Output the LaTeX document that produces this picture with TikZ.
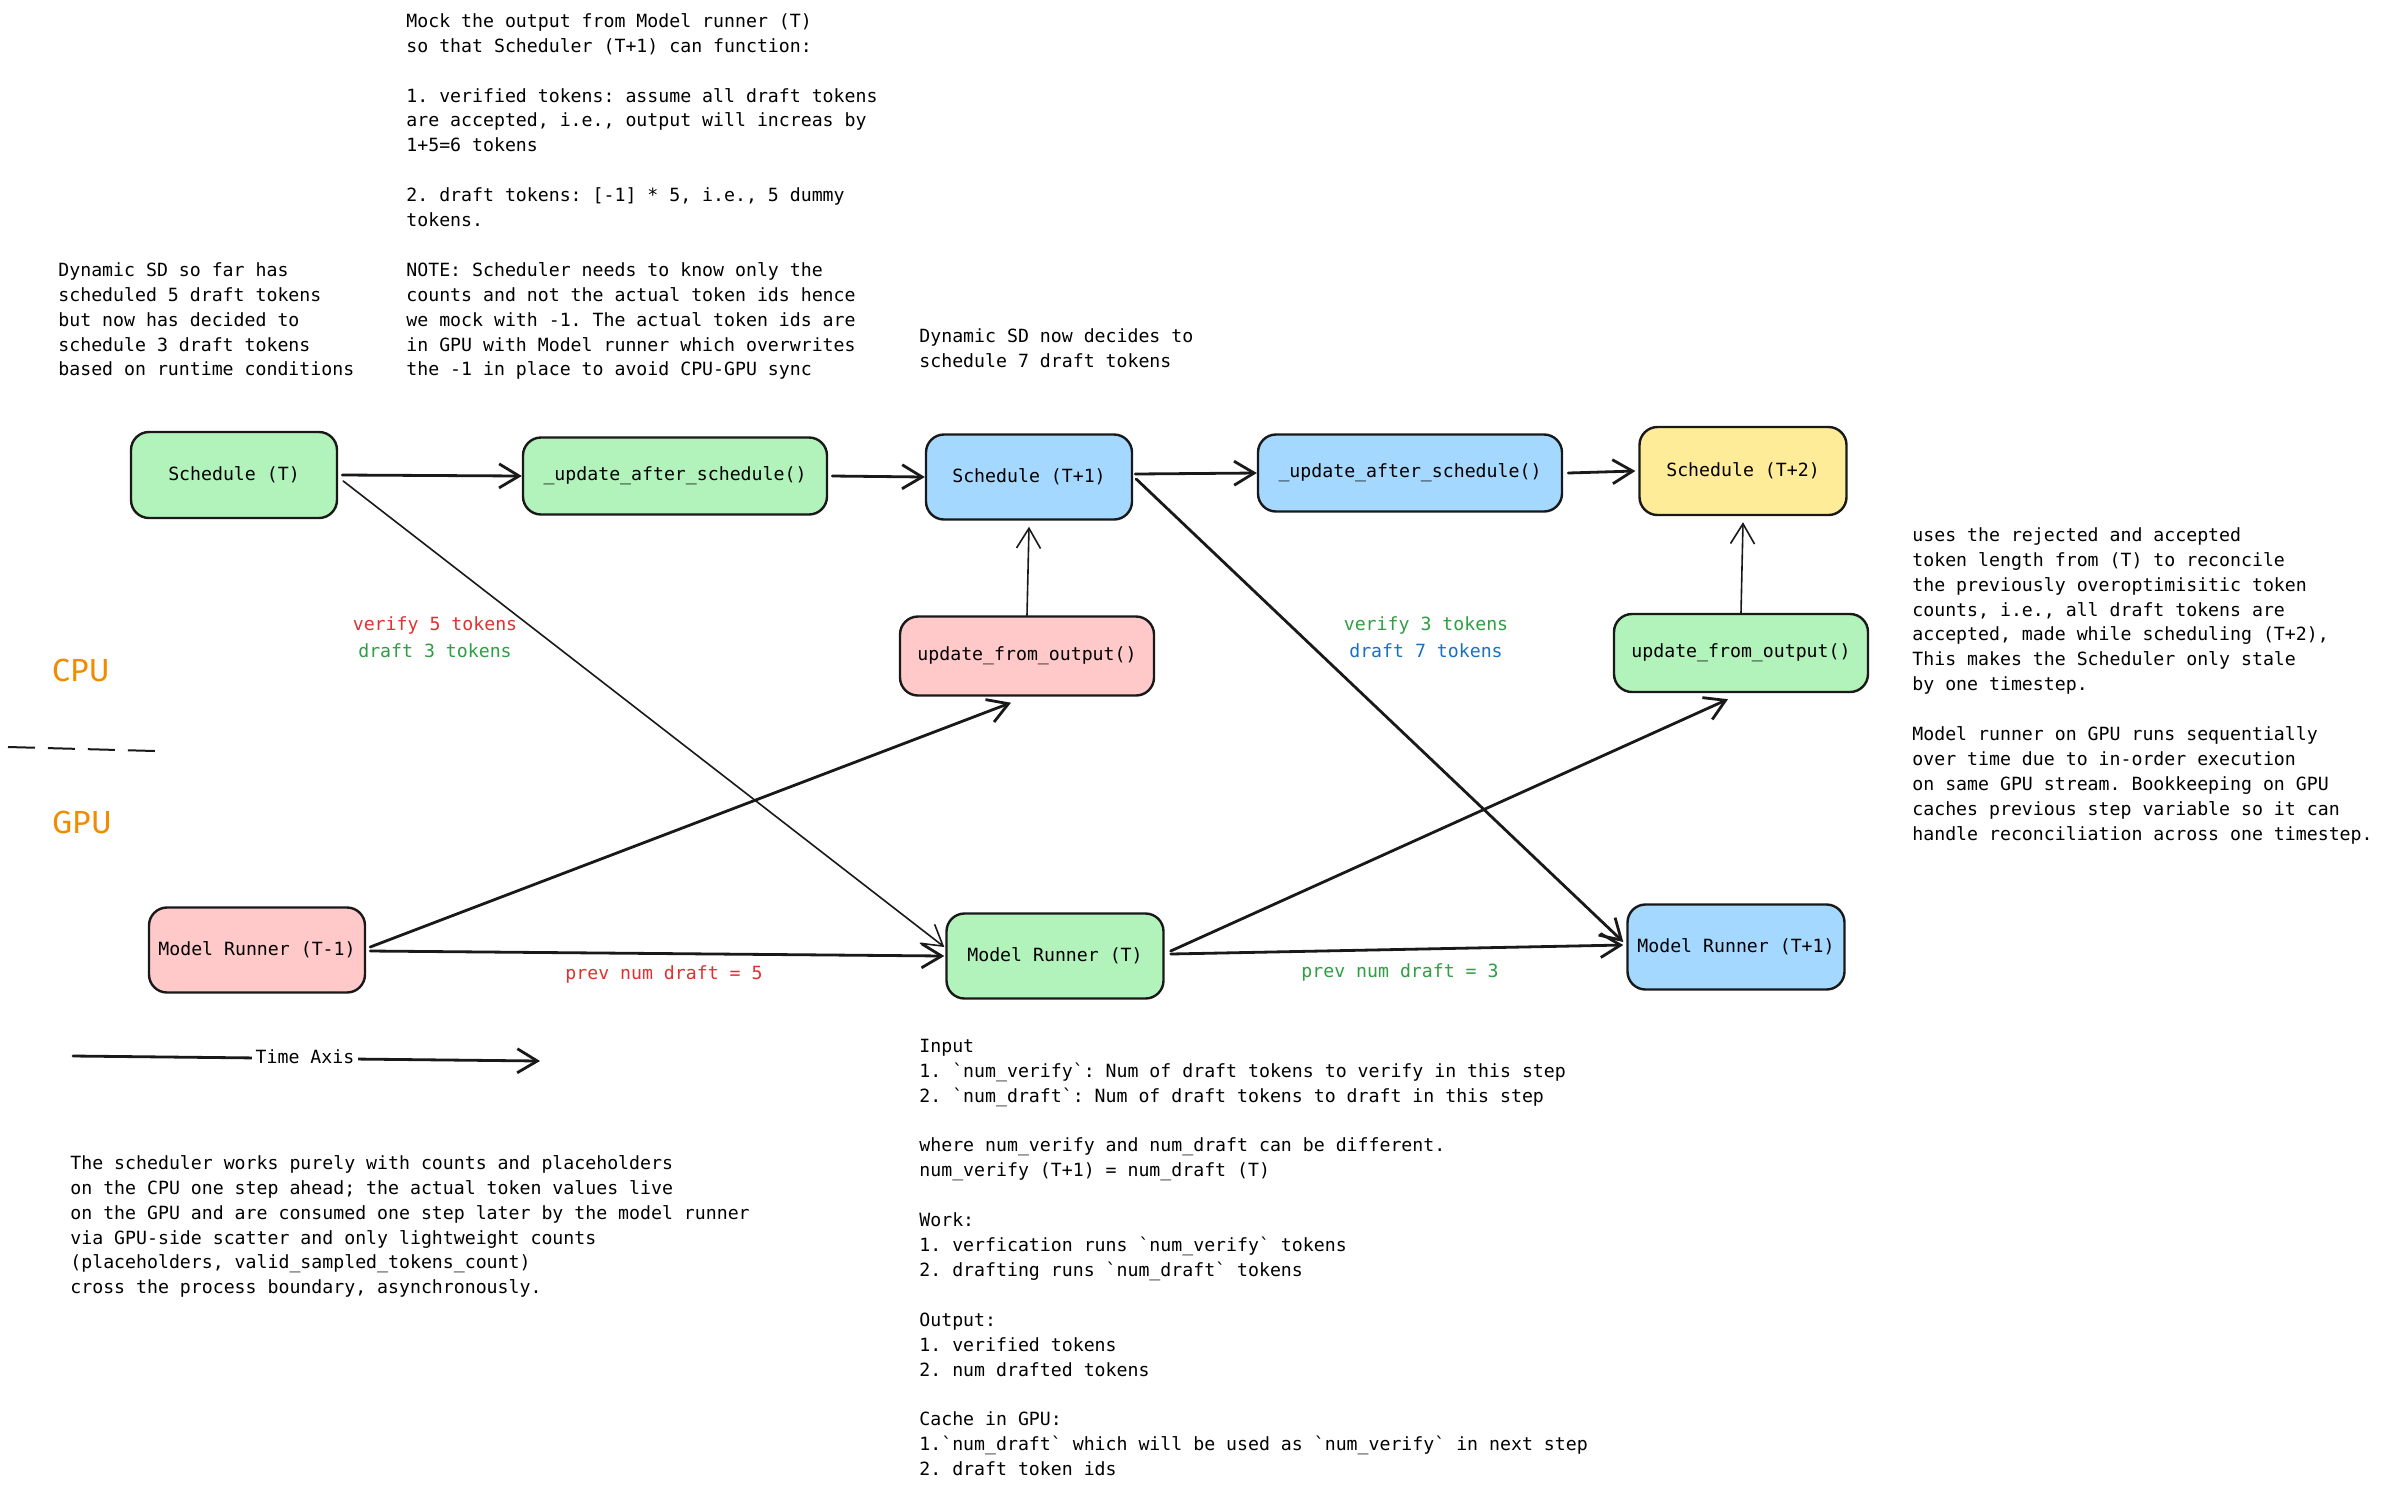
\documentclass[tikz,border=0pt]{standalone}
\usepackage{fontspec}
\newfontfamily\mono{DejaVu Sans Mono}
\newfontfamily\handf{Fira Sans}
\usetikzlibrary{arrows.meta,calc}
\definecolor{fgreen}{HTML}{B2F2BB}
\definecolor{fblue}{HTML}{A5D8FF}
\definecolor{fpink}{HTML}{FFC9C9}
\definecolor{fyellow}{HTML}{FFEC99}
\definecolor{tred}{HTML}{E03131}
\definecolor{tgreen}{HTML}{2F9E44}
\definecolor{tblue}{HTML}{1971C2}
\definecolor{torange}{HTML}{F08C00}
\newcommand{\bq}{\textasciigrave}
\frenchspacing
\begin{document}
\begin{tikzpicture}[x=0.5pt,y=-0.5pt,
  box/.style={draw=black!90, line width=1.2pt, rounded corners=9pt, inner sep=0pt, font=\mono\fontsize{9.1}{12.45}\selectfont\frenchspacing},
  txt/.style={anchor=north west, inner sep=0pt, align=left, font=\mono\fontsize{9.1}{12.45}\selectfont\frenchspacing},
  lbl/.style={inner sep=0pt, align=center, font=\mono\fontsize{9.1}{12.45}\selectfont\frenchspacing},
  cpulbl/.style={inner sep=0pt, text=torange, font=\handf\fontsize{16}{19}\selectfont},
  thickarr/.style={draw=black!90, line width=1.4pt, -{Straight Barb[length=10pt,width=12pt]}, line cap=round, line join=round},
  thinarr/.style={draw=black!90, line width=0.8pt, -{Straight Barb[length=10pt,width=12pt]}, line cap=round, line join=round}]
\useasboundingbox (0,0) rectangle (2383,1490);
\fill[white] (0,0) rectangle (2383,1490);

% boxes
\node[box, fill=fgreen, minimum width=103pt, minimum height=43pt] (schT) at (234,475) {Schedule (T)};
\node[box, fill=fgreen, minimum width=152pt, minimum height=38.5pt] (upd1) at (675,476) {\_update\_after\_schedule()};
\node[box, fill=fblue, minimum width=103pt, minimum height=42.5pt] (schT1) at (1029,477) {Schedule (T+1)};
\node[box, fill=fblue, minimum width=152pt, minimum height=38.5pt] (upd2) at (1410,473) {\_update\_after\_schedule()};
\node[box, fill=fyellow, minimum width=103.5pt, minimum height=44pt] (schT2) at (1743,471) {Schedule (T+2)};
\node[box, fill=fpink, minimum width=127pt, minimum height=39.5pt] (ufoA) at (1027,656) {update\_from\_output()};
\node[box, fill=fgreen, minimum width=127pt, minimum height=39pt] (ufoB) at (1741,653) {update\_from\_output()};
\node[box, fill=fpink, minimum width=108pt, minimum height=42.5pt] (mrA) at (257,950) {Model Runner (T-1)};
\node[box, fill=fgreen, minimum width=108.5pt, minimum height=42.5pt] (mrB) at (1055,956) {Model Runner (T)};
\node[box, fill=fblue, minimum width=108.5pt, minimum height=42.5pt] (mrC) at (1736,947) {Model Runner (T+1)};

% connectors
\draw[thickarr] ($(schT.east)+(4,0)$) -- (upd1.west);
\draw[thickarr] ($(upd1.east)+(4,0)$) -- (schT1.west);
\draw[thickarr] ($(schT1.east)+(2,-3)$) -- (upd2.west);
\draw[thickarr] ($(upd2.east)+(5,0)$) -- ($(schT2.west)+(-3,0)$);
\draw[thinarr] (ufoA.north) -- ($(schT1.south)+(0,6)$);
\draw[thinarr] (ufoB.north) -- ($(schT2.south)+(0,6)$);
\draw[thinarr] ($(schT.east)+(5,6)$) -- ($(mrB.west)+(-1,-9)$);
\draw[thickarr] ($(mrA.east)+(4,-3)$) -- ($(ufoA.south)+(-16,6)$);
\draw[thickarr] ($(mrA.east)+(4,1)$) -- ($(mrB.west)+(-1,0)$);
\draw[thickarr] ($(schT1.east)+(3,2)$) -- ($(mrC.west)+(-3,-5)$);
\draw[thickarr] ($(mrB.east)+(6,-5)$) -- ($(ufoB.south)+(-13,6)$);
\draw[thickarr] ($(mrB.east)+(6,-2)$) -- ($(mrC.west)+(-3,-2)$);

% labels on connectors
\node[lbl] (l1) at (435,637) {\textcolor{tred}{verify 5 tokens}\\[1pt]\textcolor{tgreen}{draft 3 tokens}};
\node[lbl] (l2) at (1426,637) {\textcolor{tgreen}{verify 3 tokens}\\[1pt]\textcolor{tblue}{draft 7 tokens}};
\node[lbl, text=tred] (l3) at (664,974) {prev num draft = 5};
\node[lbl, text=tgreen] (l4) at (1400,972) {prev num draft = 3};

% CPU / GPU
\node[cpulbl] (cpu) at (81,670) {CPU};
\node[cpulbl] (gpu) at (82,822) {GPU};
\coordinate (d1) at (8,747);
\coordinate (d2) at (155,751);
\draw[black!90, line width=1pt, dash pattern=on 13.5pt off 6.5pt] (d1) -- (d2);

% time axis
\coordinate (ta1) at (73,1056);
\coordinate (ta2) at (540,1061);
\draw[thickarr] (ta1) -- (ta2);
\node[lbl, fill=white, inner xsep=2pt, inner ysep=2pt] (tal) at (305,1057) {Time Axis};

% text blocks
\node[txt] (tmock) at (406,9.5) {\strut Mock the output from Model runner (T)\\
so that Scheduler (T+1) can function:\\[12.45pt]
1. verified tokens: assume all draft tokens\\
are accepted, i.e., output will increas by\\
1+5=6 tokens\\[12.45pt]
2. draft tokens: [-1] * 5, i.e., 5 dummy\\
tokens.\\[12.45pt]
NOTE: Scheduler needs to know only the\\
counts and not the actual token ids hence\\
we mock with -1. The actual token ids are\\
in GPU with Model runner which overwrites\\
the -1 in place to avoid CPU-GPU sync};

\node[txt] (tdyn1) at (58,258.5) {\strut Dynamic SD so far has\\
scheduled 5 draft tokens\\
but now has decided to\\
schedule 3 draft tokens\\
based on runtime conditions};

\node[txt] (tdyn2) at (919,324.5) {\strut Dynamic SD now decides to\\
schedule 7 draft tokens};

\node[txt] (tright) at (1912,523.5) {\strut uses the rejected and accepted\\
token length from (T) to reconcile\\
the previously overoptimisitic token\\
counts, i.e., all draft tokens are\\
accepted, made while scheduling (T+2),\\
This makes the Scheduler only stale\\
by one timestep.\\[12.45pt]
Model runner on GPU runs sequentially\\
over time due to in-order execution\\
on same GPU stream. Bookkeeping on GPU\\
caches previous step variable so it can\\
handle reconciliation across one timestep.};

\node[txt] (tbl) at (70,1151.5) {\strut The scheduler works purely with counts and placeholders\\
on the CPU one step ahead; the actual token values live\\
on the GPU and are consumed one step later by the model runner\\
via GPU-side scatter and only lightweight counts\\
(placeholders, valid\_sampled\_tokens\_count)\\
cross the process boundary, asynchronously.};

\node[txt] (tbm) at (919,1034.5) {\strut Input\\
1. \bq num\_verify\bq: Num of draft tokens to verify in this step\\
2. \bq num\_draft\bq: Num of draft tokens to draft in this step\\[12.45pt]
where num\_verify and num\_draft can be different.\\
num\_verify (T+1) = num\_draft (T)\\[12.45pt]
Work:\\
1. verfication runs \bq num\_verify\bq{} tokens\\
2. drafting runs \bq num\_draft\bq{} tokens\\[12.45pt]
Output:\\
1. verified tokens\\
2. num drafted tokens\\[12.45pt]
Cache in GPU:\\
1.\bq num\_draft\bq{} which will be used as \bq num\_verify\bq{} in next step\\
2. draft token ids};
\end{tikzpicture}
\end{document}
